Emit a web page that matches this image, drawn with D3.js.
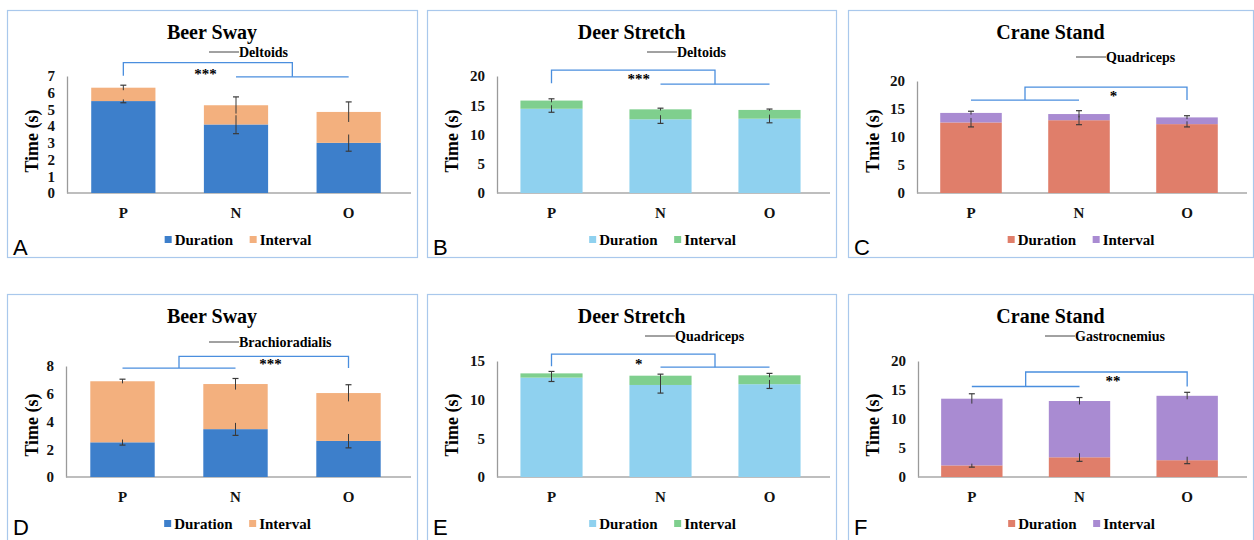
<!DOCTYPE html>
<html>
<head>
<meta charset="utf-8">
<script src="https://cdn.jsdelivr.net/npm/d3@7"></script>
<style>
  body { margin: 0; background: #fff; }
  text { font-family: "Liberation Serif", "Times New Roman", serif; font-weight: bold; }
  .letter { font-family: "Liberation Sans", Arial, sans-serif; font-weight: normal; }
</style>
</head>
<body>
<div id="chart"></div>
<script>
// categories and legend labels
const categories = ["P", "N", "O"];
const seriesNames = ["Duration", "Interval"];

// A: Beer Sway, Deltoids
const beerDeltDuration = [5.5, 4.1, 3.0];
const beerDeltInterval = [0.8, 1.15, 1.85];
const beerDeltDurErr   = [0.1, 0.55, 0.5];
const beerDeltTotErr   = [0.15, 0.5, 0.6];

// B: Deer Stretch, Deltoids
const deerDeltDuration = [14.4, 12.6, 12.7];
const deerDeltInterval = [1.4, 1.7, 1.5];
const deerDeltDurErr   = [0.6, 0.7, 0.7];
const deerDeltTotErr   = [0.3, 0.2, 0.15];

// C: Crane Stand, Quadriceps
const craneQuadDuration = [12.6, 13.0, 12.3];
const craneQuadInterval = [1.7, 1.1, 1.2];
const craneQuadDurErr   = [0.8, 0.8, 0.5];
const craneQuadTotErr   = [0.3, 0.6, 0.3];

// D: Beer Sway, Brachioradialis
const beerBrachDuration = [2.5, 3.45, 2.6];
const beerBrachInterval = [4.4, 3.25, 3.45];
const beerBrachDurErr   = [0.2, 0.45, 0.5];
const beerBrachTotErr   = [0.15, 0.4, 0.6];

// E: Deer Stretch, Quadriceps
const deerQuadDuration = [12.85, 11.9, 12.0];
const deerQuadInterval = [0.55, 1.2, 1.15];
const deerQuadDurErr   = [0.5, 1.05, 0.55];
const deerQuadTotErr   = [0.25, 0.2, 0.25];

// F: Crane Stand, Gastrocnemius
const craneGastDuration = [2.0, 3.4, 2.9];
const craneGastInterval = [11.5, 9.7, 11.1];
const craneGastDurErr   = [0.3, 0.7, 0.6];
const craneGastTotErr   = [0.85, 0.6, 0.6];

// y axis maxima and tick steps
const yMaxes  = [7, 20, 20, 8, 15, 20];
const ySteps  = [1, 5, 5, 2, 5, 5];

const colors = {
  beer:  ["#3d7fcb", "#f3b07e"],
  deer:  ["#8fd1ef", "#7fcf8e"],
  crane: ["#e07e6a", "#a98bd2"]
};

const panels = [
  { id: "A", fx: 7,   fy: 10,  fw: 410, title: "Beer Sway",    muscle: "Deltoids",        ylab: "Time (s)",
    dur: beerDeltDuration,  int: beerDeltInterval,  de: beerDeltDurErr,  te: beerDeltTotErr,  col: colors.beer,
    yMax: yMaxes[0], yStep: ySteps[0], top: 66, left: 60, mx: 202,
    br: { single: 0, pair: [1, 2], hi: 7.8, lo: 6.95 }, star: { t: "***", i: 0.73, v: 7.2 } },
  { id: "B", fx: 427, fy: 10,  fw: 409, title: "Deer Stretch", muscle: "Deltoids",        ylab: "Time (s)",
    dur: deerDeltDuration,  int: deerDeltInterval,  de: deerDeltDurErr,  te: deerDeltTotErr,  col: colors.deer,
    yMax: yMaxes[1], yStep: ySteps[1], top: 66, left: 70, mx: 220,
    br: { single: 0, pair: [1, 2], hi: 21.0, lo: 18.6 }, star: { t: "***", i: 0.8, v: 19.7 } },
  { id: "C", fx: 848, fy: 10,  fw: 405, title: "Crane Stand",  muscle: "Quadriceps",      ylab: "Tmie (s)",
    dur: craneQuadDuration, int: craneQuadInterval, de: craneQuadDurErr, te: craneQuadTotErr, col: colors.crane,
    yMax: yMaxes[2], yStep: ySteps[2], top: 71, left: 69, mx: 228, my: 47,
    br: { single: 2, pair: [0, 1], hi: 18.9, lo: 16.6 }, star: { t: "*", i: 1.32, v: 17.5 } },
  { id: "D", fx: 7,   fy: 294, fw: 410, title: "Beer Sway",    muscle: "Brachioradialis", ylab: "Time (s)",
    dur: beerBrachDuration, int: beerBrachInterval, de: beerBrachDurErr, te: beerBrachTotErr, col: colors.beer,
    yMax: yMaxes[3], yStep: ySteps[3], top: 72, left: 59, mx: 202, my: 48,
    br: { single: 2, pair: [0, 1], hi: 8.7, lo: 7.85 }, star: { t: "***", i: 1.31, v: 8.25 } },
  { id: "E", fx: 427, fy: 294, fw: 409, title: "Deer Stretch", muscle: "Quadriceps",      ylab: "Time (s)",
    dur: deerQuadDuration,  int: deerQuadInterval,  de: deerQuadDurErr,  te: deerQuadTotErr,  col: colors.deer,
    yMax: yMaxes[4], yStep: ySteps[4], top: 67, left: 70, mx: 218,
    br: { single: 0, pair: [1, 2], hi: 15.9, lo: 14.2 }, star: { t: "*", i: 0.8, v: 14.8 } },
  { id: "F", fx: 848, fy: 294, fw: 405, title: "Crane Stand",  muscle: "Gastrocnemius",   ylab: "Time (s)",
    dur: craneGastDuration, int: craneGastInterval, de: craneGastDurErr, te: craneGastTotErr, col: colors.crane,
    yMax: yMaxes[5], yStep: ySteps[5], top: 67, left: 70, mx: 197,
    br: { single: 2, pair: [0, 1], hi: 18.1, lo: 15.6 }, star: { t: "**", i: 1.31, v: 16.7 } }
];

const W = 1254, H = 540;
const SERIF = "'Liberation Serif', 'Times New Roman', serif";
const svg = d3.select("#chart").append("svg")
  .attr("width", W).attr("height", H);

const BRACKET = "#4a8ede";

panels.forEach(p => {
  const g = svg.append("g");
  const base = p.fy + 183;

  // frame
  g.append("rect")
    .attr("x", p.fx + 0.5).attr("y", p.fy + 0.5)
    .attr("width", p.fw).attr("height", p.fy > 100 ? 260 : 247)
    .attr("fill", "none").attr("stroke", "#a9c8ec").attr("stroke-width", 1.2);

  const x = d3.scaleBand(categories, [p.fx + p.left, p.fx + p.fw - 12])
    .paddingInner(0.43).paddingOuter(0.215);
  const y = d3.scaleLinear([0, p.yMax], [base, p.fy + p.top]);
  const cx = i => x(categories[i]) + x.bandwidth() / 2;
  const step = x.step();

  // title
  g.append("text")
    .attr("x", p.fx + p.fw / 2).attr("y", p.fy + 29)
    .attr("text-anchor", "middle").attr("font-size", 20)
    .text(p.title);

  // muscle key
  const my = p.fy + (p.my || 42);
  g.append("line")
    .attr("x1", p.fx + p.mx).attr("x2", p.fx + p.mx + 30)
    .attr("y1", my).attr("y2", my)
    .attr("stroke", "#444").attr("stroke-width", 1);
  g.append("text")
    .attr("x", p.fx + p.mx + 30).attr("y", my + 5)
    .style("font-family", SERIF)
    .attr("font-size", 14).text(p.muscle);

  // y axis
  const yAxis = d3.axisLeft(y)
    .tickValues(d3.range(0, p.yMax + 0.001, p.yStep))
    .tickFormat(d3.format("d"))
    .tickSize(0).tickPadding(12);
  const ya = g.append("g")
    .attr("transform", `translate(${p.fx + p.left},0)`)
    .call(yAxis);
  ya.select(".domain").attr("stroke", "#9a9a9a").attr("stroke-width", 1.3);
  ya.selectAll("text").attr("font-size", 15).attr("fill", "#111")
    .style("font-family", SERIF).style("font-weight", "bold");

  // x axis
  const xa = g.append("g")
    .attr("transform", `translate(0,${base})`)
    .call(d3.axisBottom(x).tickSize(0).tickPadding(14));
  xa.select(".domain").remove();
  xa.append("line")
    .attr("x1", p.fx + p.left).attr("x2", p.fx + p.fw - 6)
    .attr("stroke", "#a8a8a8").attr("stroke-width", 1.3);
  xa.selectAll("text").attr("font-size", 15).attr("fill", "#111")
    .style("font-family", SERIF).style("font-weight", "bold");

  // y title
  const ym = p.fy + 131;
  g.append("text")
    .attr("transform", `translate(${p.fx + 31},${ym}) rotate(-90)`)
    .attr("text-anchor", "middle").attr("font-size", 18)
    .text(p.ylab);

  // stacked bars
  const rows = categories.map((c, i) => ({ cat: c, Duration: p.dur[i], Interval: p.int[i] }));
  const stacked = d3.stack().keys(seriesNames)(rows);
  g.selectAll(".layer").data(stacked).join("g")
    .attr("fill", (d, k) => p.col[k])
    .selectAll("rect").data(d => d).join("rect")
      .attr("x", d => x(d.data.cat))
      .attr("width", x.bandwidth())
      .attr("y", d => y(d[1]))
      .attr("height", d => y(d[0]) - y(d[1]));

  // error bars: duration (cap below), total (cap above)
  const cap = 3;
  categories.forEach((c, i) => {
    const xc = cx(i);
    const d = p.dur[i], t = p.dur[i] + p.int[i];
    const eb = [
      { v: d, e: p.de[i], capAt: d - p.de[i] },
      { v: t, e: p.te[i], capAt: t + p.te[i] }
    ];
    eb.forEach(b => {
      g.append("line")
        .attr("x1", xc).attr("x2", xc)
        .attr("y1", y(b.v - b.e)).attr("y2", y(b.v + b.e))
        .attr("stroke", "#3a3a3a").attr("stroke-width", 1);
      g.append("line")
        .attr("x1", xc - cap).attr("x2", xc + cap)
        .attr("y1", y(b.capAt)).attr("y2", y(b.capAt))
        .attr("stroke", "#3a3a3a").attr("stroke-width", 1.2);
    });
  });

  // significance bracket: single category vs pair
  const b = p.br;
  const pa = cx(b.pair[0]), pb = cx(b.pair[1]);
  const pm = (pa + pb) / 2;
  const sx = cx(b.single);
  const bracket = g.append("g").attr("fill", "none")
    .attr("stroke", BRACKET).attr("stroke-width", 1.3);
  bracket.append("line").attr("x1", pa).attr("x2", pb)
    .attr("y1", y(b.lo)).attr("y2", y(b.lo));
  bracket.append("path")
    .attr("d", `M${pm},${y(b.lo)}V${y(b.hi)}H${sx}V${y(b.lo) + (b.single === 0 ? -1 : 0)}`);

  g.append("text")
    .attr("x", cx(0) + p.star.i * step).attr("y", y(p.star.v) + 6)
    .attr("text-anchor", "middle").attr("font-size", 15)
    .text(p.star.t);

  // series legend
  const lg = g.append("g");
  const ly = p.fy + 230;
  const items = lg.selectAll("g").data(seriesNames).join("g");
  items.append("rect")
    .attr("width", 7).attr("height", 7).attr("y", -4)
    .attr("fill", (d, k) => p.col[k]);
  items.append("text")
    .attr("x", 10).attr("y", 5).attr("font-size", 15)
    .style("font-family", SERIF).text(d => d);
  let off = 0;
  items.each(function () {
    d3.select(this).attr("transform", `translate(${off},0)`);
    off += this.getBBox().width + 16;
  });
  const lw = off - 16;
  const center = (p.fx + p.left + p.fx + p.fw - 12) / 2 + 2;
  lg.attr("transform", `translate(${center - lw / 2},${ly})`);

  // panel letter
  g.append("text").attr("class", "letter")
    .attr("x", p.fx + 6).attr("y", p.fy + (p.fy > 100 ? 241 : 245))
    .attr("font-size", 22).text(p.id);
});
</script>
</body>
</html>
